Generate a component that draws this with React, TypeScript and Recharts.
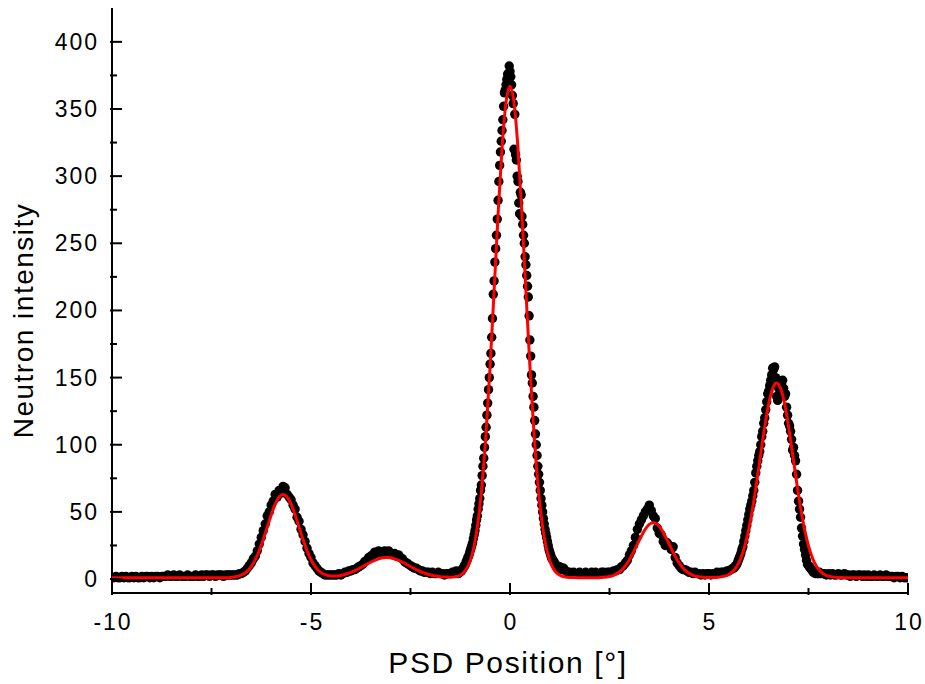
import { ComposedChart, Scatter, XAxis, YAxis, Label } from "recharts"

// measured counts; the detector grid is finer under the two tallest peaks
const baseLeftStart = -10 // step 0.05, up to -1.35
const baseLeftCounts = [
  1, 1, 2, 1, 1, 2, 1, 2, 1, 1, 2, 1, 2, 1, 1, 2, 1, 2, 2, 1,
  2, 1, 2, 2, 1, 2, 2, 2, 3, 2, 2, 3, 2, 2, 3, 2, 2, 2, 3, 2,
  2, 2, 3, 2, 2, 3, 2, 3, 3, 2, 3, 3, 2, 3, 3, 3, 2, 3, 3, 3,
  3, 3, 3, 3, 4, 4, 5, 6, 8, 10, 12, 15, 17, 21, 26, 31, 36, 41, 47, 50,
  55, 58, 63, 61, 66, 64, 69, 68, 63, 61, 59, 55, 52, 46, 43, 37, 33, 28, 23, 19,
  16, 12, 10, 8, 6, 5, 4, 3, 3, 3, 3, 3, 3, 3, 4, 3, 4, 5, 5, 6,
  6, 7, 7, 8, 9, 10, 11, 13, 14, 16, 17, 18, 20, 19, 21, 20, 19, 21, 20, 21,
  19, 18, 19, 17, 18, 16, 15, 13, 12, 11, 10, 9, 8, 8, 7, 6, 6, 5, 5, 5,
  4, 5, 4, 4, 5, 4, 4, 3, 4, 4, 4, 5, 5, 6,
]

const mainPeakStart = -1.3 // step 0.02, up to 1.3
const mainPeakCounts = [
  4, 5, 5, 6, 6, 7, 8, 9, 10, 11,
  13, 14, 16, 17, 19, 21, 23, 25, 27, 30,
  33, 36, 40, 44, 47, 52, 56, 60, 66, 70,
  77, 84, 90, 98, 106, 113, 122, 131, 141, 150,
  160, 168, 180, 194, 212, 222, 236, 246, 256, 268,
  282, 296, 308, 318, 326, 334, 342, 352, 362, 364,
  368, 372, 376, 374, 382, 378, 374, 368, 360, 354,
  320, 346, 316, 312, 300, 296, 280, 272, 288, 286,
  270, 264, 256, 250, 240, 234, 226, 218, 210, 196,
  178, 166, 152, 146, 136, 128, 118, 108, 100, 92,
  84, 78, 72, 66, 60, 55, 50, 45, 41, 37,
  34, 31, 28, 25, 22, 20, 18, 16, 15, 14,
  13, 12, 11, 10, 10, 9, 9, 8, 9, 8,
  7,
]

const baseMidStart = 1.35 // step 0.05, up to 5.55
const baseMidCounts = [
  8, 6, 5, 5, 4, 5, 4, 4, 5, 4, 4, 5, 4,
  4, 5, 4, 5, 4, 4, 5, 5, 4, 5, 5, 5, 6, 6, 7, 7, 9, 10, 12, 14,
  18, 21, 25, 31, 37, 41, 44, 47, 50, 52, 55, 51, 47, 45, 38, 34, 33, 28, 25, 27,
  25, 22, 24, 16, 12, 10, 8, 7, 7, 6, 5, 5, 4, 5, 4, 4, 3, 4, 3, 4,
  4, 3, 4, 4, 5, 4, 5, 5, 5, 6, 6, 7,
]

const rightPeakStart = 5.6 // step 0.025, up to 7.8
const rightPeakCounts = [
  8, 8, 9, 10, 11, 13, 15, 17, 19, 22,
  24, 28, 32, 36, 40, 44, 48, 52, 55, 58,
  62, 66, 72, 79, 84, 88, 92, 95, 100, 106,
  110, 116, 120, 126, 132, 138, 140, 144, 148, 152,
  157, 156, 158, 150, 136, 133, 142, 144, 140, 146,
  148, 142, 136, 138, 128, 122, 116, 114, 110, 104,
  96, 98, 92, 88, 78, 66, 58, 52, 46, 38,
  32, 26, 22, 18, 14, 11, 10, 9, 8, 7,
  6, 5, 5, 4, 5, 4, 4, 5, 4,
]

const baseRightStart = 7.85 // step 0.05, up to 10
const baseRightCounts = [
  4, 4, 3,
  4, 3, 4, 3, 3, 4, 3, 3, 4, 3, 3, 2, 3, 3, 2, 3, 3, 2, 3, 2,
  3, 2, 2, 3, 2, 2, 3, 2, 2, 3, 2, 2, 2, 1, 2, 2, 1, 2, 1, 1,
  1,
]

// fitted curve read on a 0.1° grid, -10 .. 10
const fitStart = -10
const fitStep = 0.1
const fitCounts = [
  1, 1, 1, 1, 1, 1, 1, 1, 1, 1, 1, 1, 1, 1, 1, 1, 1, 1, 1, 1, 1, 1, 1, 1, 1, 1, 1, 1, 1, 1,
  1.3, 1.7, 2.4, 3.7, 5.9, 9.4, 14.4, 21.1, 29.4, 38.6, 47.8, 55.7, 61.1, 63.0, 61.1, 55.7, 47.8, 38.6, 29.4, 21.1,
  14.4, 9.4, 6.0, 3.9, 2.8, 2.3, 2.2, 2.4, 3.0, 3.9, 4.9, 6.2, 7.7, 9.3, 10.9, 12.5, 13.9, 15.0, 15.8, 16.0,
  15.8, 15.0, 13.9, 12.5, 10.9, 9.3, 7.7, 6.2, 4.9, 3.9, 3.0, 2.4, 1.9, 1.6, 1.5, 1.4, 1.6, 2.2, 3.8, 7.2,
  13.6, 24.8, 43.2, 71.1, 109.7, 158.5, 214.3, 271.2, 320.8, 354.9, 367.0, 354.9, 320.8, 271.2, 214.3, 158.5, 109.7, 71.1, 43.2, 24.8,
  13.6, 7.2, 3.8, 2.2, 1.5, 1.2, 1.1,
  1, 1, 1, 1, 1, 1,
  1.2, 1.5, 1.9, 2.8, 4.3, 6.5, 9.9, 14.3, 19.8, 25.9, 31.9, 37.2, 40.7, 42.0, 40.7, 37.2, 31.9, 25.9, 19.8, 14.3,
  9.9, 6.5, 4.3, 2.8, 1.9, 1.5, 1.2, 1.1, 1.1, 1.2, 1.6, 2.2, 3.4, 5.7, 9.5, 15.6, 24.6, 37.2, 53.3, 72.4,
  93.1, 113.3, 130.5, 141.9, 146.0, 141.9, 130.5, 113.3, 93.1, 72.4, 53.3, 37.2, 24.6, 15.6, 9.5, 5.7, 3.4, 2.2, 1.6, 1.2,
  1.1, 1.0,
  1, 1, 1, 1, 1, 1, 1, 1, 1, 1, 1, 1, 1, 1, 1, 1,
]

const xTicks = [-10, -7.5, -5, -2.5, 0, 2.5, 5, 7.5, 10]
const xLabels = [-10, -5, 0, 5, 10]
const yTicks = [0, 25, 50, 75, 100, 125, 150, 175, 200, 225, 250, 275, 300, 325, 350, 375, 400]
const yLabels = [0, 50, 100, 150, 200, 250, 300, 350, 400]

const onGrid = (start: number, step: number, values: number[]) =>
  values.map((v, i) => ({ x: Math.round((start + i * step) * 1000) / 1000, y: v }))

const dots = [
  ...onGrid(baseLeftStart, 0.05, baseLeftCounts),
  ...onGrid(mainPeakStart, 0.02, mainPeakCounts),
  ...onGrid(baseMidStart, 0.05, baseMidCounts),
  ...onGrid(rightPeakStart, 0.025, rightPeakCounts),
  ...onGrid(baseRightStart, 0.05, baseRightCounts),
]
const fit = onGrid(fitStart, fitStep, fitCounts)

const font = "'Liberation Sans', Arial, Helvetica, sans-serif"

function XTick(props: any) {
  const { x, y, payload, side } = props
  const v = payload.value
  const major = xLabels.includes(v)
  const len = major ? 12 : 7
  const d = side === "top" ? 1 : -1
  return (
    <g>
      <line x1={x} x2={x} y1={y} y2={y + d * len} stroke="#000" strokeWidth={2} />
      {side === "bottom" && major && (
        <text x={x + 1} y={y + 35} textAnchor="middle" fontSize={23} letterSpacing={2} fontFamily={font} fill="#000">
          {String(v)}
        </text>
      )}
    </g>
  )
}

function YTick(props: any) {
  const { x, y, payload, side } = props
  const v = payload.value
  const major = yLabels.includes(v)
  const len = major ? 12 : 7
  const d = side === "left" ? 1 : -1
  return (
    <g>
      <line x1={x} x2={x + d * len} y1={y} y2={y} stroke="#000" strokeWidth={2} />
      {side === "left" && major && (
        <text x={x - 11} y={y + 8} textAnchor="end" fontSize={23} letterSpacing={2} fontFamily={font} fill="#000">
          {String(v)}
        </text>
      )}
    </g>
  )
}

const Dot = (props: any) => <circle cx={props.cx} cy={props.cy} r={4.7} fill="#000" />
const NoDot = () => <g />

export default function App() {
  const frame = { stroke: "#000", strokeWidth: 2 }
  return (
    <div style={{ position: "absolute", left: 0, top: 0, width: 925, height: 684, background: "#fff" }}>
      <ComposedChart width={925} height={684} margin={{ top: 8, right: 17, bottom: 0, left: 0 }}>
        <XAxis
          dataKey="x"
          type="number"
          domain={[-10, 10]}
          allowDataOverflow
          ticks={xTicks}
          interval={0}
          height={91}
          tickSize={0}
          tickLine={false}
          axisLine={frame}
          tick={(p: any) => <XTick {...p} side="bottom" />}
        >
          <Label
            content={(p: any) => {
              const vb = p.viewBox
              return (
                <text x={vb.x + vb.width / 2 - 2} y={vb.y + 80} textAnchor="middle" fontSize={30} letterSpacing={1.6} fontFamily={font} fill="#000">
                  PSD Position [°]
                </text>
              )
            }}
          />
        </XAxis>
        <XAxis
          xAxisId="top"
          orientation="top"
          dataKey="x"
          type="number"
          domain={[-10, 10]}
          allowDataOverflow
          ticks={xTicks}
          interval={0}
          height={0}
          tickSize={0}
          tickLine={false}
          axisLine={frame}
          tick={(p: any) => <XTick {...p} side="top" />}
        />
        <YAxis
          type="number"
          domain={[-10.4, 425.2]}
          allowDataOverflow
          ticks={yTicks}
          interval={0}
          width={112}
          tickSize={0}
          tickLine={false}
          axisLine={frame}
          tick={(p: any) => <YTick {...p} side="left" />}
        >
          <Label
            content={(p: any) => {
              const vb = p.viewBox
              const cx = 33
              const cy = vb.y + vb.height / 2 + 20
              return (
                <text x={cx} y={cy} transform={`rotate(-90 ${cx} ${cy})`} textAnchor="middle" fontSize={28} letterSpacing={1.5} fontFamily={font} fill="#000">
                  Neutron intensity
                </text>
              )
            }}
          />
        </YAxis>
        <YAxis
          yAxisId="right"
          orientation="right"
          type="number"
          domain={[-10.4, 425.2]}
          allowDataOverflow
          ticks={yTicks}
          interval={0}
          width={0}
          tickSize={0}
          tickLine={false}
          axisLine={frame}
          tick={(p: any) => <YTick {...p} side="right" />}
        />
        <Scatter data={dots} dataKey="y" fill="#000" shape={<Dot />} isAnimationActive={false} />
        <Scatter
          data={fit}
          dataKey="y"
          shape={<NoDot />}
          line={{ stroke: "#ff0000", strokeWidth: 3 }}
          lineJointType="monotoneX"
          fill="none"
          isAnimationActive={false}
        />
      </ComposedChart>
    </div>
  )
}
